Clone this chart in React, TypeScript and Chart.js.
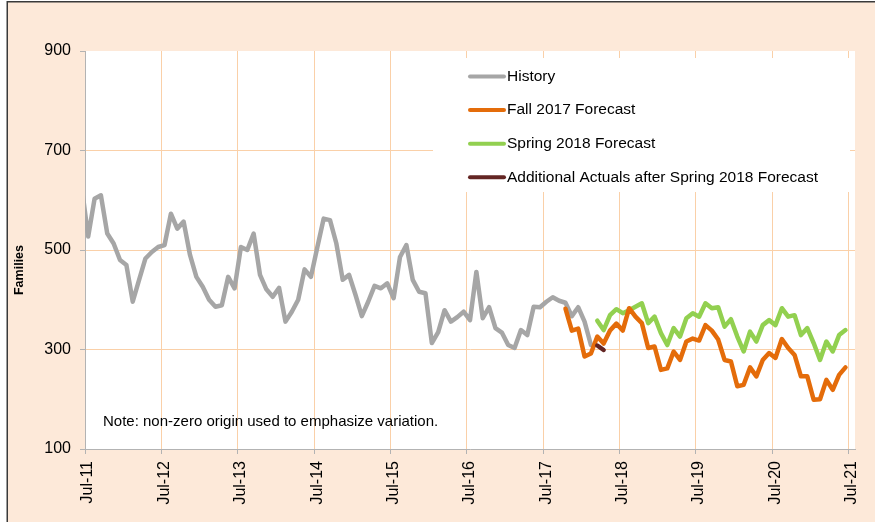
import React, { useEffect, useRef } from "react";
import { Chart, registerables } from "chart.js";

Chart.register(...registerables);

// ---------- data ----------
const tickLabels = ["Jul-11", "Jul-12", "Jul-13", "Jul-14", "Jul-15", "Jul-16", "Jul-17", "Jul-18", "Jul-19", "Jul-20", "Jul-21"];
const monthsPerTick = 12;
const yTicks = [100, 300, 500, 700, 900];

// month index 0 = Jul-11 ; History begins one month earlier (Jun-11)
const historyStart = -1;
const historyValues = [
  625, 527, 603, 610, 533, 513, 480, 470, 396, 440, 483, 496, 506,
  510, 573, 543, 557, 490, 446, 426, 400, 386, 389, 446, 423,
  506, 500, 533, 450, 421, 406, 424, 356, 376, 400, 461, 446,
  505, 563, 560, 513, 440, 450, 410, 367, 396, 428, 423, 433,
  403, 486, 510, 440, 416, 413, 313, 335, 379, 356, 365, 376,
  359, 456, 363, 385, 343, 334, 309, 303, 339, 329, 386, 385,
  396, 405, 398, 394, 367, 385, 356, 309,
];

const fall2017Start = 75;
const fall2017Values = [
  382, 338, 342, 286, 292, 326, 312, 338, 352, 338, 383, 366,
  353, 303, 306, 259, 262, 296, 279, 316, 322, 318, 349, 338,
  320, 279, 276, 226, 229, 264, 246, 279, 293, 283, 321, 303,
  289, 246, 246, 199, 200, 239, 219, 249, 264,
];

const spring2018Start = 80;
const spring2018Values = [
  358, 339, 369, 381, 373, 379, 386, 393, 353, 366, 333, 309,
  343, 326, 363, 373, 366, 393, 383, 385, 346, 361, 326, 296,
  336, 316, 349, 359, 349, 383, 366, 369, 329, 343, 313, 279,
  316, 296, 329, 339,
];

const additionalStart = 80;
const additionalValues = [308, 299];

const seriesNames = [
  "History",
  "Fall 2017 Forecast",
  "Spring 2018 Forecast",
  "Additional Actuals after Spring 2018 Forecast",
];
const seriesColors = ["#A6A6A6", "#E46C0A", "#92D050", "#632523"];
const noteText = "Note: non-zero origin used to emphasize variation.";
const yTitle = "Families";

// ---------- styles ----------
const FONT = "'Liberation Sans', Arial, sans-serif";
const BG = "#FDE9D9";
const GRID = "#FAD0A8";
const AXIS = "#B3B3B3";

function toPoints(start: number, values: number[]) {
  return values.map((v, k) => ({ x: start + k + 0.5, y: v }));
}

const decorPlugin = {
  id: "decor",
  beforeDraw(chart: any) {
    const { ctx, chartArea: a, width, height } = chart;
    ctx.save();
    ctx.fillStyle = "#ffffff";
    ctx.fillRect(0, 0, width, height);
    ctx.fillStyle = BG;
    ctx.fillRect(7, 2, width - 7, height - 2);
    ctx.fillStyle = "#ffffff";
    ctx.fillRect(a.left, a.top, a.right - a.left, a.bottom - a.top);
    ctx.strokeStyle = "#3a3a3a";
    ctx.lineWidth = 1.5;
    ctx.beginPath();
    ctx.moveTo(7.25, height);
    ctx.lineTo(7.25, 1.75);
    ctx.lineTo(width, 1.75);
    ctx.stroke();
    ctx.restore();
  },
  afterDraw(chart: any) {
    const { ctx } = chart;
    ctx.save();
    // legend box
    ctx.fillStyle = "#ffffff";
    ctx.fillRect(433, 58, 417, 134);
    ctx.textBaseline = "middle";
    ctx.textAlign = "left";
    ctx.font = `15.5px ${FONT}`;
    seriesNames.forEach((name, k) => {
      const y = 76.5 + k * 33.6;
      ctx.strokeStyle = seriesColors[k];
      ctx.lineWidth = 4;
      ctx.lineCap = "round";
      ctx.beginPath();
      ctx.moveTo(470, y);
      ctx.lineTo(504, y);
      ctx.stroke();
      ctx.fillStyle = "#000";
      ctx.fillText(name, 507, y);
    });
    // note
    ctx.font = `15px ${FONT}`;
    ctx.fillText(noteText, 103, 422);
    // y title
    ctx.translate(20, 270);
    ctx.rotate(-Math.PI / 2);
    ctx.textAlign = "center";
    ctx.font = `bold 12.5px ${FONT}`;
    ctx.fillText(yTitle, 0, 0);
    ctx.restore();
  },
};

export default function App() {
  const ref = useRef<HTMLCanvasElement | null>(null);

  useEffect(() => {
    if (!ref.current) return;
    const common = {
      borderWidth: 4.5,
      pointRadius: 0,
      tension: 0,
      borderJoinStyle: "round",
      borderCapStyle: "round",
      fill: false,
      clip: 0,
    };
    const chart = new Chart(ref.current, {
      type: "line",
      data: {
        datasets: [
          { ...common, label: seriesNames[0], data: toPoints(historyStart, historyValues), borderColor: seriesColors[0], order: 3 },
          { ...common, label: seriesNames[1], data: toPoints(fall2017Start, fall2017Values), borderColor: seriesColors[1], order: 1 },
          { ...common, label: seriesNames[2], data: toPoints(spring2018Start, spring2018Values), borderColor: seriesColors[2], order: 2 },
          { ...common, label: seriesNames[3], data: toPoints(additionalStart, additionalValues), borderColor: seriesColors[3], order: 0 },
        ] as any,
      },
      options: {
        animation: false,
        responsive: false,
        devicePixelRatio: 1,
        layout: { padding: { left: 0, top: 51, right: 17, bottom: 0 } },
        plugins: { legend: { display: false }, tooltip: { enabled: false } },
        scales: {
          x: {
            type: "linear",
            min: 0,
            max: 121,
            afterFit: (s: any) => {
              s.height = 73;
            },
            afterBuildTicks: (s: any) => {
              s.ticks = tickLabels.map((_, k) => ({ value: k * monthsPerTick }));
            },
            ticks: {
              autoSkip: false,
              minRotation: 90,
              maxRotation: 90,
              padding: 7,
              labelOffset: 3,
              color: "#000",
              font: { family: FONT, size: 16 },
              callback: (v: any) => tickLabels[Math.round(Number(v) / monthsPerTick)],
            },
            grid: { color: GRID, tickColor: AXIS, tickLength: 5, lineWidth: 1 },
            border: { color: AXIS, width: 1 },
          },
          y: {
            min: 100,
            max: 900,
            afterFit: (s: any) => {
              s.width = 85;
            },
            afterBuildTicks: (s: any) => {
              s.ticks = yTicks.map((v) => ({ value: v }));
            },
            ticks: { padding: 9, color: "#000", font: { family: FONT, size: 16 } },
            grid: {
              color: (c: any) =>
                c.tick && (c.tick.value === 900 || c.tick.value === 100) ? "rgba(0,0,0,0)" : GRID,
              tickColor: AXIS,
              tickLength: 5,
            },
            border: { color: AXIS, width: 1 },
          },
        },
      } as any,
      plugins: [decorPlugin],
    });
    return () => chart.destroy();
  }, []);

  return (
    <div style={{ position: "fixed", left: 0, top: 0, width: 875, height: 522 }}>
      <canvas ref={ref} width={875} height={522} style={{ display: "block", width: 875, height: 522 }} />
    </div>
  );
}
